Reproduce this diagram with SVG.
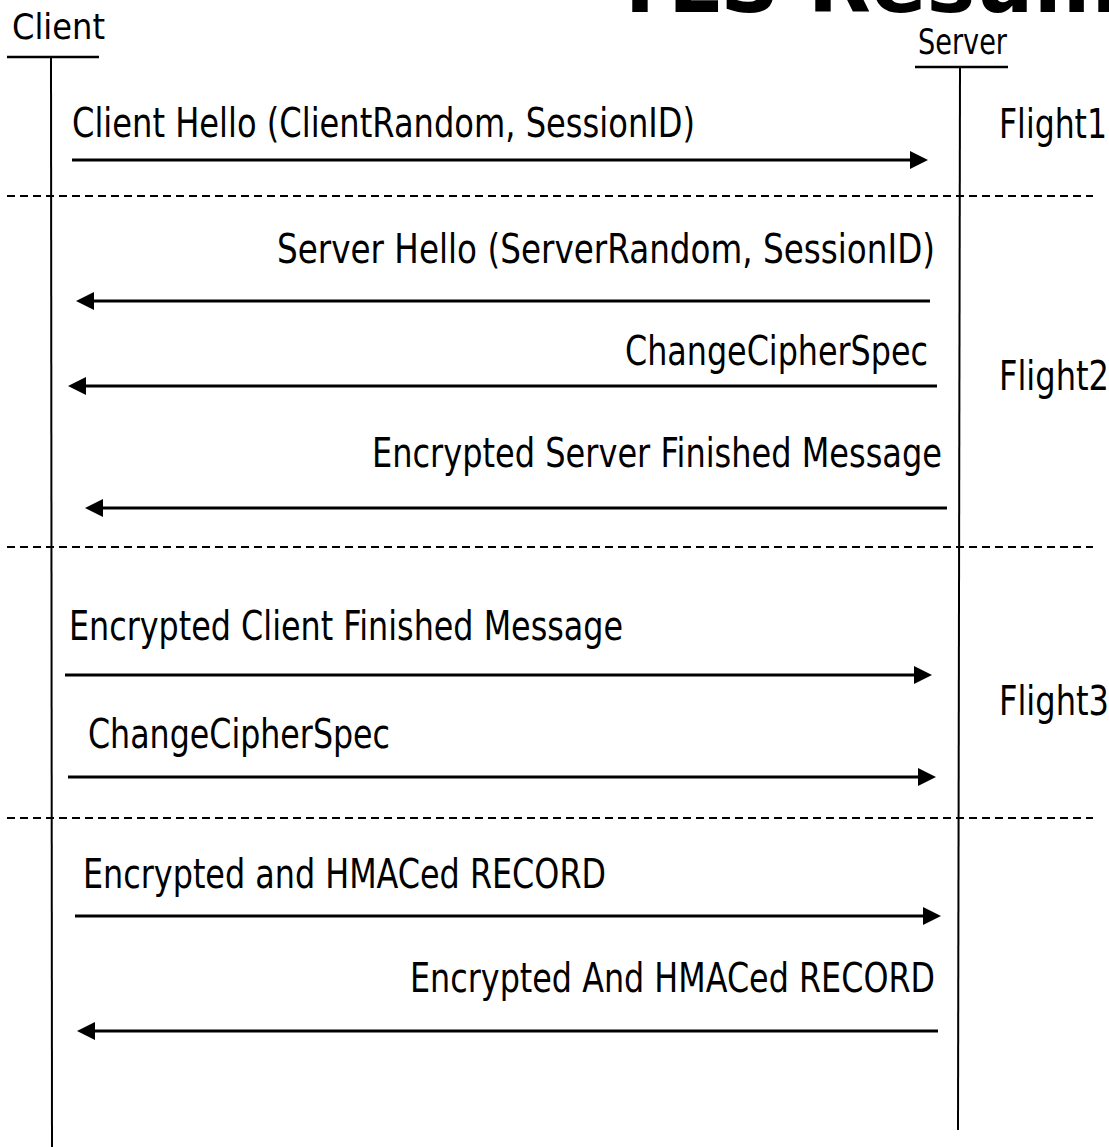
<svg xmlns="http://www.w3.org/2000/svg" width="1109" height="1147" viewBox="0 0 1109 1147">
<style>
.lbl{font-family:"DejaVu Sans","Verdana",sans-serif;font-size:40px;fill:#000}
.hdr{font-family:"DejaVu Sans","Verdana",sans-serif;font-size:35px;fill:#000}
.title{font-family:"DejaVu Sans","Verdana",sans-serif;font-size:82px;font-weight:bold;fill:#000}
.life{stroke:#000;stroke-width:2;fill:none}
.uline{stroke:#000;stroke-width:2.5;fill:none}
.sep{stroke:#000;stroke-width:2;stroke-dasharray:8 5;fill:none}
.msg{stroke:#000;stroke-width:3;fill:none;marker-end:url(#ah)}
</style>
<defs>
<marker id="ah" viewBox="0 0 18 18" refX="14" refY="9" markerWidth="18" markerHeight="18" markerUnits="userSpaceOnUse" orient="auto">
<path d="M0,0 L18,9 L0,18 z" fill="#000"/>
</marker>
</defs>
<rect x="0" y="0" width="1109" height="1147" fill="#fff"/>
<text class="title" x="612" y="12">TLS Resumption</text>
<g id="client">
<text class="hdr" x="12" y="39" textLength="93" lengthAdjust="spacingAndGlyphs">Client</text>
<line class="uline" x1="7" y1="57" x2="99" y2="57"/>
<line class="life" x1="51" y1="57" x2="52" y2="1147"/>
</g>
<g id="server">
<text class="hdr" x="918" y="54" textLength="89" lengthAdjust="spacingAndGlyphs">Server</text>
<line class="uline" x1="915" y1="67" x2="1008" y2="67"/>
<line class="life" x1="960" y1="67" x2="958" y2="1130"/>
</g>
<g id="flights">
<text class="lbl" x="999" y="138" textLength="108" lengthAdjust="spacingAndGlyphs">Flight1</text>
<text class="lbl" x="999" y="390" textLength="110" lengthAdjust="spacingAndGlyphs">Flight2</text>
<text class="lbl" x="999" y="715" textLength="110" lengthAdjust="spacingAndGlyphs">Flight3</text>
</g>
<g id="separators">
<line class="sep" x1="7" y1="196" x2="1093" y2="196"/>
<line class="sep" x1="7" y1="547" x2="1093" y2="547"/>
<line class="sep" x1="7" y1="818" x2="1093" y2="818"/>
</g>
<g id="labels">
<text class="lbl" x="72" y="137" textLength="623" lengthAdjust="spacingAndGlyphs">Client Hello (ClientRandom, SessionID)</text>
<text class="lbl" x="277" y="263" textLength="658" lengthAdjust="spacingAndGlyphs">Server Hello (ServerRandom, SessionID)</text>
<text class="lbl" x="625" y="365" textLength="303" lengthAdjust="spacingAndGlyphs">ChangeCipherSpec</text>
<text class="lbl" x="372" y="467" textLength="570" lengthAdjust="spacingAndGlyphs">Encrypted Server Finished Message</text>
<text class="lbl" x="69" y="640" textLength="554" lengthAdjust="spacingAndGlyphs">Encrypted Client Finished Message</text>
<text class="lbl" x="88" y="748" textLength="302" lengthAdjust="spacingAndGlyphs">ChangeCipherSpec</text>
<text class="lbl" x="83" y="888" textLength="523" lengthAdjust="spacingAndGlyphs">Encrypted and HMACed RECORD</text>
<text class="lbl" x="410" y="992" textLength="525" lengthAdjust="spacingAndGlyphs">Encrypted And HMACed RECORD</text>
</g>
<g id="connectors">
<line class="msg" x1="72" y1="160" x2="924" y2="160"/>
<line class="msg" x1="930" y1="301" x2="80" y2="301"/>
<line class="msg" x1="937" y1="386" x2="72" y2="386"/>
<line class="msg" x1="947" y1="508" x2="89" y2="508"/>
<line class="msg" x1="65" y1="675" x2="928" y2="675"/>
<line class="msg" x1="68" y1="777" x2="932" y2="777"/>
<line class="msg" x1="75" y1="916" x2="937" y2="916"/>
<line class="msg" x1="938" y1="1031" x2="81" y2="1031"/>
</g>
</svg>
